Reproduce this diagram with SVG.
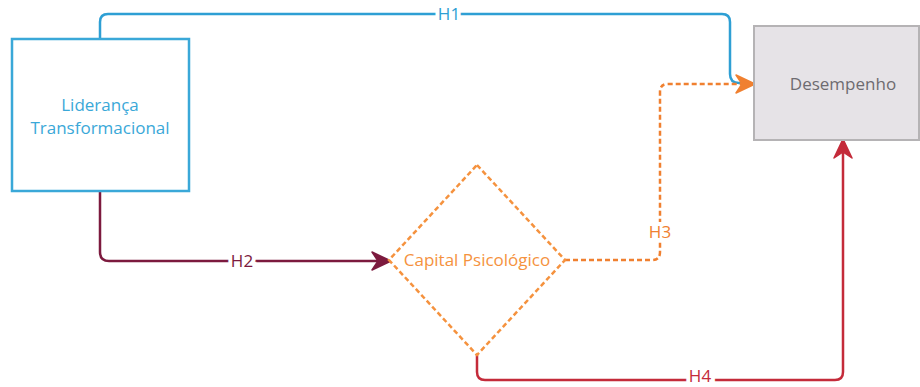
<svg xmlns="http://www.w3.org/2000/svg" width="920" height="387" viewBox="0 0 920 387">
<style>
text{font-family:"Open Sans","Noto Sans","DejaVu Sans",sans-serif;font-size:17px;text-anchor:middle}
.lbl{paint-order:stroke;stroke:#fff;stroke-width:8px}
.c{fill:none;stroke-width:2.5;stroke-linejoin:round}
</style>
<rect width="920" height="387" fill="#fff"/>
<g id="connectors">
  <g id="h1">
    <path class="c" stroke="#2E9FD4" d="M100 39 V22 Q100 14 108 14 H722 Q730 14 730 22 V74 Q730 83 739 83 H748"/>
    <text class="lbl" x="449" y="20" fill="#2E9FD4">H1</text>
  </g>
  <g id="h2">
    <path class="c" stroke="#7C1A3E" d="M100 191 V252 Q100 261 109 261 H384"/>
    <path d="M391 261 L372 252 L378 261 L372 270 Z" fill="#7C1A3E" stroke="#7C1A3E" stroke-width="1.5" stroke-linejoin="round"/>
    <text class="lbl" x="242" y="267" fill="#7C1A3E">H2</text>
  </g>
  <g id="h3">
    <path class="c" stroke="#F08030" stroke-dasharray="5 3" d="M565 260 H652 Q660 260 660 252 V92 Q660 84 668 84 H745"/>
    <path d="M755 84 L736 75 L742 84 L736 93 Z" fill="#F08030" stroke="#F08030" stroke-width="1.5" stroke-linejoin="round"/>
    <text class="lbl" x="660" y="238" fill="#F08030">H3</text>
  </g>
  <g id="h4">
    <path class="c" stroke="#C42B3A" d="M477 355 V372 Q477 380 485 380 H835 Q843 380 843 372 V146"/>
    <path d="M843 139 L834 158 L843 152 L852 158 Z" fill="#C42B3A" stroke="#C42B3A" stroke-width="1.5" stroke-linejoin="round"/>
    <text class="lbl" x="700" y="382" fill="#C42B3A">H4</text>
  </g>
</g>
<g id="lideranca">
  <rect x="12" y="39" width="177" height="152" fill="#fff" stroke="#3AA8D8" stroke-width="2.5"/>
  <text x="100" y="111" fill="#3AA8D8">Liderança</text>
  <text x="100" y="134" fill="#3AA8D8">Transformacional</text>
</g>
<g id="desempenho">
  <rect x="754" y="26" width="165" height="114" fill="#E6E3E7" stroke="#B5B3B5" stroke-width="2"/>
  <text x="843" y="90" fill="#6E6B70">Desempenho</text>
</g>
<g id="capital">
  <polygon points="477,165 565,260 477,355 389,260" fill="#fff" stroke="#F5923E" stroke-width="2.5" stroke-dasharray="5 3"/>
  <text x="477" y="266" fill="#F5923E">Capital Psicológico</text>
</g>
</svg>
